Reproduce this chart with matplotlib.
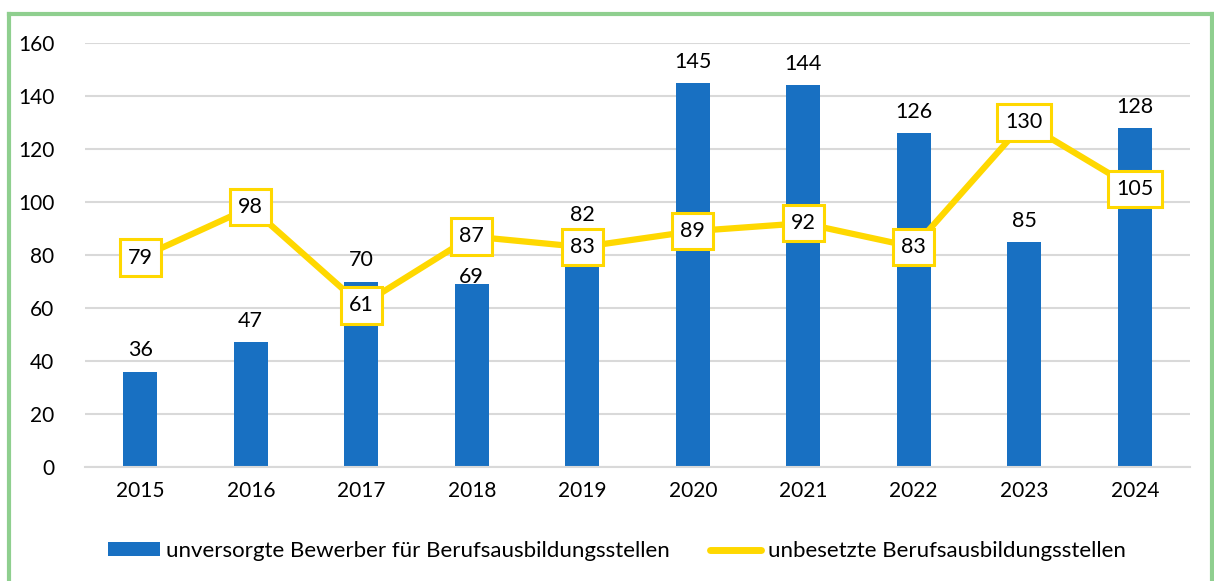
import matplotlib
matplotlib.use("Agg")
import matplotlib.pyplot as plt
from matplotlib.lines import Line2D
from matplotlib.patches import Patch

years = ["2015", "2016", "2017", "2018", "2019", "2020", "2021", "2022", "2023", "2024"]
bewerber = [36, 47, 70, 69, 82, 145, 144, 126, 85, 128]
stellen = [79, 98, 61, 87, 83, 89, 92, 83, 130, 105]
yticks = [0, 20, 40, 60, 80, 100, 120, 140, 160]
label_bar = "unversorgte Bewerber für Berufsausbildungsstellen"
label_line = "unbesetzte Berufsausbildungsstellen"

# vertical offsets (points) of the bar value labels, adjusted to avoid the line labels
bar_label_offsets = [8, 8, 8, -2, 18, 8, 8, 8, 8, 8]

plt.rcParams['font.family'] = ['Lato', 'DejaVu Sans']
BLUE = "#1870c2"
YELLOW = "#ffd800"
GRID = "#d9d9d9"

fig = plt.figure(figsize=(12.14, 5.81), dpi=100)
W, H = 1214, 581
ax = fig.add_axes([85 / W, 1 - 467 / H, (1190 - 85) / W, (467 - 43) / H])

x = list(range(len(years)))
ax.bar(x, bewerber, width=0.31, color=BLUE, zorder=2)
ax.plot(x, stellen, color=YELLOW, lw=4.5, zorder=3, solid_joinstyle='miter')

for xi, v, off in zip(x, bewerber, bar_label_offsets):
    ax.annotate(str(v), (xi, v), xytext=(0, off), textcoords='offset points',
                ha='center', va='bottom', fontsize=15.5, color='black', zorder=4)
for xi, v in zip(x, stellen):
    ax.text(xi, v, str(v), ha='center', va='center', fontsize=15.5, color='black', zorder=5,
            bbox=dict(boxstyle='square,pad=0.38', fc='white', ec=YELLOW, lw=2.2))

ax.set_xlim(-0.5, len(years) - 0.5)
ax.set_ylim(0, 160)
ax.set_yticks(yticks)
ax.set_xticks(x)
ax.set_xticklabels(years)
ax.tick_params(axis='both', length=0, labelsize=15, colors='black')
ax.tick_params(axis='y', pad=22)
ax.tick_params(axis='x', pad=10)
ax.grid(axis='y', color=GRID, lw=1.5, zorder=0)
ax.set_axisbelow(True)
for s in ['top', 'right', 'left']:
    ax.spines[s].set_visible(False)
ax.spines['bottom'].set_color(GRID)
ax.spines['bottom'].set_linewidth(1.5)

handles = [Patch(facecolor=BLUE, edgecolor='none', label=label_bar),
           Line2D([0], [0], color=YELLOW, lw=5, solid_capstyle='round', label=label_line)]
leg = fig.legend(handles=handles, loc='center', bbox_to_anchor=(617 / W, 1 - 551 / H),
                 ncol=2, frameon=False, fontsize=16, handlelength=2.3, handletextpad=0.3,
                 columnspacing=1.8, handleheight=0.55)

# green frame
GREEN = "#8fcf8f"
fig.add_artist(Line2D([9 / W, 9 / W], [0, 1 - 14 / H], color=GREEN, lw=3, transform=fig.transFigure))
fig.add_artist(Line2D([9 / W, 1212 / W], [1 - 14 / H, 1 - 14 / H], color=GREEN, lw=3, transform=fig.transFigure))
fig.add_artist(Line2D([1212 / W, 1212 / W], [0, 1 - 14 / H], color=GREEN, lw=3, transform=fig.transFigure))

fig.savefig("out.png", dpi=100)
